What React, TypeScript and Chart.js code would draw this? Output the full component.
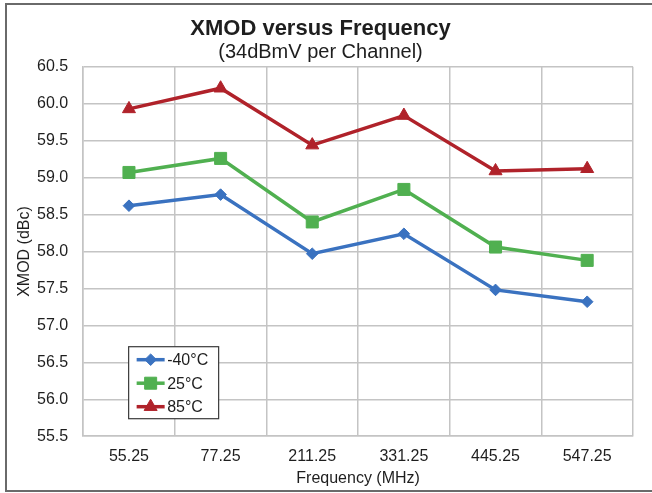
import React, { useEffect, useRef } from 'react';
import { Chart, registerables } from 'chart.js';

Chart.register(...registerables);

// ---- data ----
const frequencies = ['55.25', '77.25', '211.25', '331.25', '445.25', '547.25'];
const seriesNames = ['-40°C', '25°C', '85°C'];
const xmodMinus40 = [58.62, 58.77, 57.97, 58.24, 57.48, 57.32];
const xmod25 = [59.07, 59.26, 58.4, 58.84, 58.06, 57.88];
const xmod85 = [59.93, 60.21, 59.44, 59.84, 59.09, 59.12];
const yMin = 55.5;
const yMax = 60.5;
const yStep = 0.5;

const FONT = "'Liberation Sans', Arial, Helvetica, sans-serif";
const BLUE = '#3A72C0';
const GREEN = '#50B050';
const RED = '#B0222A';
const GRID = '#c4c4c4';
const TEXT = '#1e1e1e';

function drawMarker(ctx: CanvasRenderingContext2D, style: string, x: number, y: number, r: number) {
  ctx.beginPath();
  if (style === 'rect') {
    const s = Math.SQRT1_2 * r;
    ctx.rect(x - s, y - s, 2 * s, 2 * s);
  } else if (style === 'rectRot') {
    ctx.moveTo(x - r, y);
    ctx.lineTo(x, y - r);
    ctx.lineTo(x + r, y);
    ctx.lineTo(x, y + r);
    ctx.closePath();
  } else {
    let rad = 0;
    ctx.moveTo(x + Math.sin(rad) * r, y - Math.cos(rad) * r);
    rad += (2 * Math.PI) / 3;
    ctx.lineTo(x + Math.sin(rad) * r, y - Math.cos(rad) * r);
    rad += (2 * Math.PI) / 3;
    ctx.lineTo(x + Math.sin(rad) * r, y - Math.cos(rad) * r);
    ctx.closePath();
  }
  ctx.fill();
  ctx.stroke();
}

const framePlugin = {
  id: 'frame',
  beforeDraw(chart: any) {
    const ctx = chart.ctx as CanvasRenderingContext2D;
    ctx.save();
    ctx.fillStyle = '#ffffff';
    ctx.fillRect(0, 0, chart.width, chart.height);
    ctx.strokeStyle = '#6a6a6a';
    ctx.lineWidth = 2;
    ctx.strokeRect(6, 4, chart.width + 10, 487);
    ctx.restore();
  },
};

const boxLegendPlugin = {
  id: 'boxLegend',
  afterDraw(chart: any) {
    const ctx = chart.ctx as CanvasRenderingContext2D;
    const area = chart.chartArea;
    const bx = area.left + 45.5;
    const by = area.bottom - 89.5;
    const bw = 90;
    const bh = 72;
    ctx.save();
    ctx.fillStyle = '#ffffff';
    ctx.fillRect(bx, by, bw, bh);
    ctx.strokeStyle = '#3a3a3a';
    ctx.lineWidth = 1.2;
    ctx.strokeRect(bx, by, bw, bh);
    chart.data.datasets.forEach((ds: any, i: number) => {
      const cy = by + 13 + i * 23.5;
      ctx.strokeStyle = ds.borderColor;
      ctx.lineWidth = ds.borderWidth;
      ctx.beginPath();
      ctx.moveTo(bx + 8, cy);
      ctx.lineTo(bx + 36, cy);
      ctx.stroke();
      ctx.fillStyle = ds.backgroundColor;
      ctx.lineWidth = 1;
      drawMarker(ctx, ds.pointStyle, bx + 22, cy, ds.pointRadius);
      ctx.fillStyle = TEXT;
      ctx.font = `16px ${FONT}`;
      ctx.textBaseline = 'middle';
      ctx.textAlign = 'left';
      ctx.fillText(ds.label, bx + 38.5, cy + 1);
    });
    ctx.restore();
  },
};

export default function App() {
  const canvasRef = useRef<HTMLCanvasElement | null>(null);

  useEffect(() => {
    if (!canvasRef.current) return;
    const mk = (label: string, data: number[], color: string, pointStyle: string, r: number) => ({
      label,
      data,
      borderColor: color,
      backgroundColor: color,
      borderWidth: 3.5,
      pointStyle,
      pointRadius: r,
      pointBorderWidth: 1,
      pointBackgroundColor: color,
      pointBorderColor: color,
      tension: 0,
      fill: false,
    });
    const chart = new Chart(canvasRef.current, {
      type: 'line',
      data: {
        labels: frequencies,
        datasets: [
          mk(seriesNames[0], xmodMinus40, BLUE, 'rectRot', 5.8),
          mk(seriesNames[1], xmod25, GREEN, 'rect', 8.5),
          mk(seriesNames[2], xmod85, RED, 'triangle', 7.5),
        ],
      },
      options: {
        responsive: false,
        animation: false,
        devicePixelRatio: 1,
        layout: { padding: { top: 4, left: 8, right: 19, bottom: 4.4 } },
        plugins: {
          legend: { display: false },
          tooltip: { enabled: false },
          title: {
            display: true,
            text: 'XMOD versus Frequency',
            color: TEXT,
            font: { family: FONT, size: 22, weight: 'bold', lineHeight: 1.2 },
            padding: { top: 12, bottom: 0 },
          },
          subtitle: {
            display: true,
            text: '(34dBmV per Channel)',
            color: TEXT,
            font: { family: FONT, size: 20, lineHeight: 1.0 },
            padding: { top: 0, bottom: 4.4 },
          },
        },
        scales: {
          x: {
            offset: true,
            grid: { offset: true, color: GRID, lineWidth: 1.5, drawTicks: false },
            border: { color: GRID, width: 1.5 },
            ticks: { color: TEXT, font: { family: FONT, size: 16 }, padding: 11 },
            title: {
              display: true,
              text: 'Frequency (MHz)',
              color: TEXT,
              font: { family: FONT, size: 16 },
              padding: { top: -8, bottom: 0 },
            },
          },
          y: {
            min: yMin,
            max: yMax,
            grid: { color: GRID, lineWidth: 1.5, drawTicks: false },
            border: { color: GRID, width: 1.5 },
            ticks: {
              stepSize: yStep,
              color: TEXT,
              font: { family: FONT, size: 16 },
              padding: 15,
              callback: (v: any) => Number(v).toFixed(1),
            },
            title: {
              display: true,
              text: 'XMOD (dBc)',
              color: TEXT,
              font: { family: FONT, size: 16 },
              padding: { top: 7.4, bottom: -12.6 },
            },
          },
        },
      } as any,
      plugins: [framePlugin, boxLegendPlugin],
    });
    return () => chart.destroy();
  }, []);

  return (
    <div style={{ position: 'fixed', left: 0, top: 0, width: 652, height: 493, background: '#fff' }}>
      <canvas ref={canvasRef} width={652} height={493} style={{ display: 'block' }} />
    </div>
  );
}
